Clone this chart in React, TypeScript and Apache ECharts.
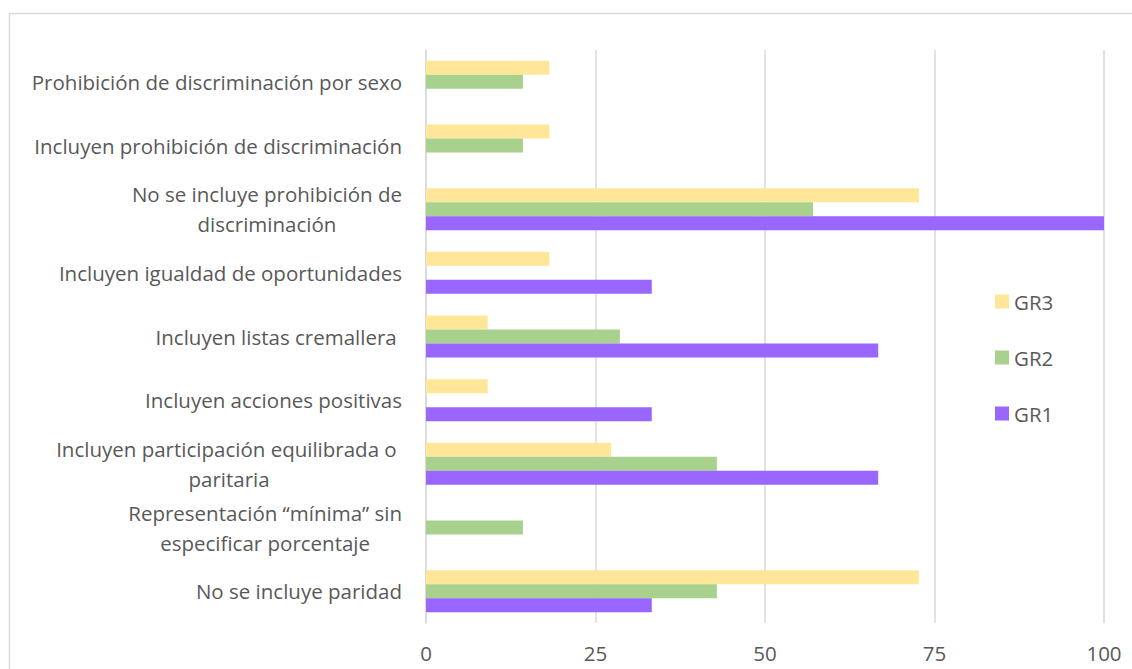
import React, { useEffect, useRef } from "react";
import * as echarts from "echarts";

// Categories listed bottom to top (category axis starts at the bottom)
const categories = [
  "No se incluye paridad",
  "Representación “mínima” sin\nespecificar porcentaje",
  "Incluyen participación equilibrada o \nparitaria",
  "Incluyen acciones positivas",
  "Incluyen listas cremallera ",
  "Incluyen igualdad de oportunidades",
  "No se incluye prohibición de\ndiscriminación",
  "Incluyen prohibición de discriminación",
  "Prohibición de discriminación por sexo",
];

const gr3 = [72.7, null, 27.3, 9.1, 9.1, 18.2, 72.7, 18.2, 18.2];
const gr2 = [42.9, 14.3, 42.9, null, 28.6, null, 57.1, 14.3, 14.3];
const gr1 = [33.3, null, 66.7, 33.3, 66.7, 33.3, 100, null, null];

const xTicks = [0, 25, 50, 75, 100];

const FONT = "'Open Sans', sans-serif";
const FONT_SIZE = 20.5;
const TEXT = "#595959";
const GRID = "#d9d9d9";

export default function App() {
  const ref = useRef<HTMLDivElement>(null);

  useEffect(() => {
    if (!ref.current) return;
    const chart = echarts.init(ref.current, undefined, { renderer: "svg" });
    chart.setOption({
      animation: false,
      backgroundColor: "#ffffff",
      textStyle: { fontFamily: FONT },
      graphic: [
        {
          type: "rect",
          shape: { x: 9.5, y: 13.5, width: 1200, height: 700 },
          style: { fill: "none", stroke: GRID, lineWidth: 1.5 },
          silent: true,
        },
      ],
      grid: { left: 426, right: 28, top: 50, bottom: 46, containLabel: false },
      legend: {
        orient: "vertical",
        left: 995,
        top: 291,
        padding: 0,
        icon: "rect",
        itemWidth: 14,
        itemHeight: 14,
        itemGap: 35,
        textStyle: { fontFamily: FONT, fontSize: FONT_SIZE, lineHeight: 20, color: TEXT },
        data: ["GR3", "GR2", "GR1"],
      },
      xAxis: {
        type: "value",
        min: xTicks[0],
        max: xTicks[xTicks.length - 1],
        interval: 25,
        axisLine: { show: false },
        axisTick: { show: false },
        axisLabel: { color: TEXT, fontFamily: FONT, fontSize: FONT_SIZE, margin: 19 },
        splitLine: { show: true, lineStyle: { color: GRID, width: 1.5 } },
      },
      yAxis: {
        type: "category",
        data: categories,
        axisLine: { show: true, lineStyle: { color: GRID, width: 1.5 } },
        axisTick: { show: false },
        axisLabel: {
          color: TEXT,
          fontFamily: FONT,
          fontSize: FONT_SIZE,
          margin: 24,
          align: "right",
          lineHeight: 30,
          // each wrapped line is centred within the right-aligned label block
          formatter: (v: string) =>
            v
              .split("\n")
              .map((line) => `{c|${line}}`)
              .join("\n"),
          rich: {
            c: {
              align: "center",
              color: TEXT,
              fontFamily: FONT,
              fontSize: FONT_SIZE,
              lineHeight: 30,
            },
          },
        },
      },
      series: [
        { name: "GR3", type: "bar", data: gr3, barWidth: 14, barGap: "0%", itemStyle: { color: "#FFE699" } },
        { name: "GR2", type: "bar", data: gr2, barWidth: 14, barGap: "0%", itemStyle: { color: "#A9D18E" } },
        { name: "GR1", type: "bar", data: gr1, barWidth: 14, barGap: "0%", itemStyle: { color: "#9966FF" } },
      ],
    });
    return () => chart.dispose();
  }, []);

  return (
    <div
      ref={ref}
      style={{ position: "fixed", left: 0, top: 0, width: 1132, height: 669 }}
    />
  );
}
